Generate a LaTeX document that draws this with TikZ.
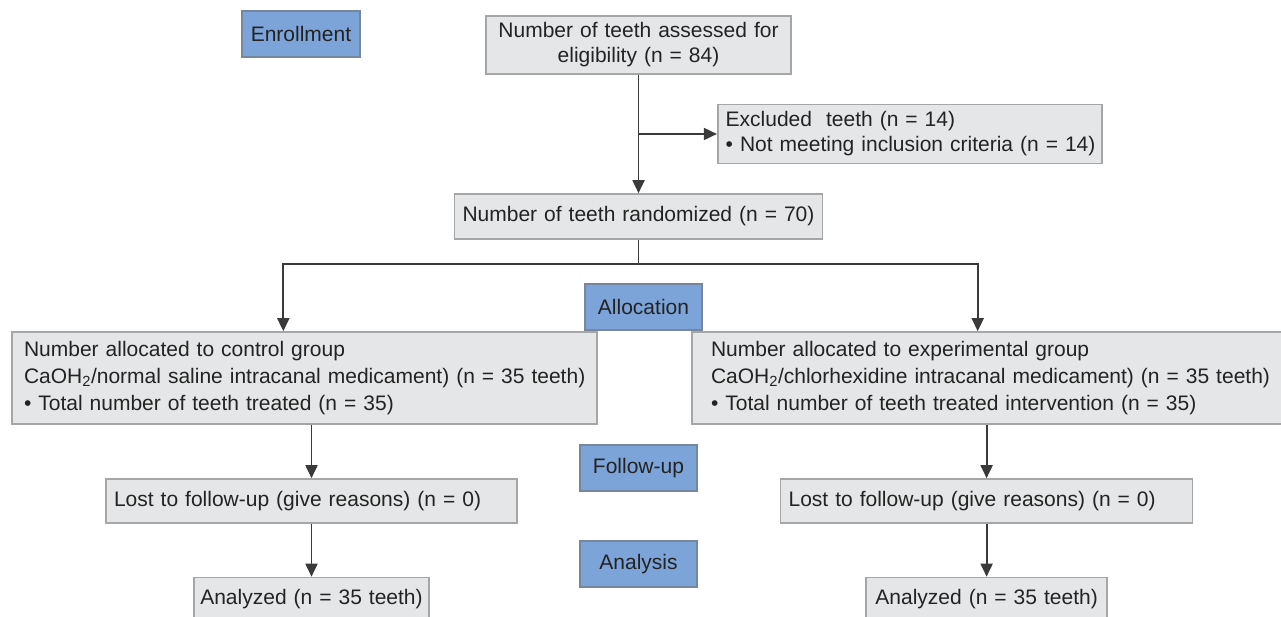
\documentclass[tikz,border=0pt]{standalone}
\usepackage{fontspec}
\setmainfont{Liberation Sans}
\usetikzlibrary{arrows.meta}
\definecolor{boxfill}{RGB}{229,230,231}
\definecolor{boxline}{RGB}{165,166,168}
\definecolor{bluefill}{RGB}{124,164,216}
\definecolor{blueline}{RGB}{118,134,156}
\definecolor{linecol}{RGB}{58,58,58}
\definecolor{textcol}{RGB}{35,35,35}
\tikzset{
  graybox/.style={draw=boxline, fill=boxfill, line width=1.6pt, text=textcol,
    font=\fontsize{21}{25}\selectfont, inner ysep=0pt, inner xsep=0pt},
  stagebox/.style={draw=blueline, fill=bluefill, line width=1.6pt, text=textcol,
    font=\fontsize{21}{26}\selectfont, inner sep=0pt, align=center},
  flow/.style={draw=linecol, line width=1.8pt, -{Triangle[length=13pt,width=12pt]}},
  plain/.style={draw=linecol, line width=1.8pt}
}
\begin{document}
\begin{tikzpicture}[x=1pt,y=-1pt]
\useasboundingbox (0,0) rectangle (1281,617);
\clip (0,0) rectangle (1281,617);
\fill[white] (0,0) rectangle (1281,617);

% stage labels
\node[stagebox, minimum width=118pt, minimum height=46pt] (enr) at (301,34) {Enrollment};
\node[stagebox, minimum width=117pt, minimum height=46pt] (alloc) at (643.5,307) {Allocation};
\node[stagebox, minimum width=117pt, minimum height=46pt] (fup) at (638.5,468) {Follow-up};
\node[stagebox, minimum width=117pt, minimum height=46pt] (ana) at (638.5,564) {Analysis};

% flow boxes
\node[graybox, minimum width=305pt, minimum height=58pt, align=center, text width=305pt] (elig) at (638.5,45)
  {Number of teeth assessed for\\eligibility (n = 84)};
\node[graybox, minimum width=384pt, minimum height=59pt, inner xsep=8pt, text width=368pt, align=left] (excl) at (909.7,134)
  {\mbox{Excluded\ \ teeth (n = 14)}\\\mbox{\textbullet\ Not meeting inclusion criteria (n = 14)}};
\node[graybox, minimum width=368pt, minimum height=45pt, align=center, text width=368pt] (rand) at (638.5,216.5)
  {Number of teeth randomized (n = 70)};

\node[graybox, minimum width=585pt, minimum height=92pt, inner xsep=12pt, text width=561pt, align=left,
  font=\fontsize{21}{27}\selectfont] (ctrl) at (304.5,378)
  {\mbox{Number allocated to control group}\\\mbox{CaOH\textsubscript{2}/normal saline intracanal medicament) (n = 35 teeth)}\\\mbox{\textbullet\ Total number of teeth treated (n = 35)}};
\node[graybox, minimum width=590pt, minimum height=92pt, inner xsep=19pt, text width=552pt, align=left,
  font=\fontsize{21}{27}\selectfont] (expg) at (987,378)
  {\mbox{Number allocated to experimental group}\\\mbox{CaOH\textsubscript{2}/chlorhexidine intracanal medicament) (n = 35 teeth)}\\\mbox{\textbullet\ Total number of teeth treated intervention (n = 35)}};

\node[graybox, minimum width=411pt, minimum height=44pt, inner xsep=8pt, text width=395pt, align=left] (lostL) at (311.5,501)
  {Lost to follow-up (give reasons) (n = 0)};
\node[graybox, minimum width=412pt, minimum height=44pt, inner xsep=8pt, text width=396pt, align=left] (lostR) at (986.6,501)
  {Lost to follow-up (give reasons) (n = 0)};

\node[graybox, minimum width=235pt, minimum height=43pt, text width=235pt, align=center] (anL) at (311.5,599)
  {Analyzed (n = 35 teeth)};
\node[graybox, minimum width=241pt, minimum height=43pt, text width=241pt, align=center] (anR) at (986.6,599)
  {Analyzed (n = 35 teeth)};

% connectors
\coordinate (br) at (elig.south |- excl.west);
\draw[flow] (elig.south) -- (rand.north);
\draw[flow] (br) -- (excl.west);

\coordinate (split) at (638.5,264.3);
\coordinate (lt) at (283.3,264.3);
\coordinate (rt) at (977.7,264.3);
\draw[plain] (rand.south) -- (split);
\draw[flow] (split) -- (lt) -- (lt |- ctrl.north);
\draw[flow] (split) -- (rt) -- (rt |- expg.north);

\draw[flow] (ctrl.south -| lostL.north) -- (lostL.north);
\draw[flow] (lostL.south) -- (anL.north);
\draw[flow] (expg.south -| lostR.north) -- (lostR.north);
\draw[flow] (lostR.south) -- (anR.north);
\end{tikzpicture}
\end{document}
